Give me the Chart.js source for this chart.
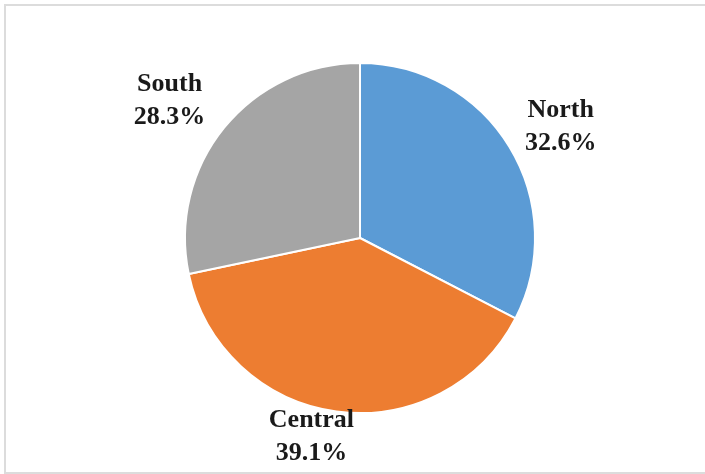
<!DOCTYPE html>
<html>
<head>
<meta charset="utf-8">
<script src="https://cdn.jsdelivr.net/npm/chart.js@4.4.0/dist/chart.umd.min.js"></script>
<style>
    html, body { margin: 0; padding: 0; background: #ffffff; }
    #wrap { position: relative; width: 705px; height: 474px; overflow: hidden; }
    #frame { position: absolute; left: 4px; top: 4px; width: 720px; height: 466px; border: 2px solid #dcdcdc; }
    canvas { position: absolute; left: 0; top: 0; }
</style>
</head>
<body>
<div id="wrap">
    <div id="frame"></div>
    <canvas id="pieChart" width="705" height="474"></canvas>
</div>
<script>
const regions = ['North', 'Central', 'South'];
const shares = [32.6, 39.1, 28.3];
const sliceColors = ['#5b9bd5', '#ed7d31', '#a5a5a5'];

// etiketleri dilimin dışına yaz
const outsideLabels = {
    id: 'outsideLabels',
    afterDatasetsDraw(chart, args, opts) {
        const ctx = chart.ctx;
        const meta = chart.getDatasetMeta(0);
        ctx.save();
        ctx.font = 'bold 26px "Liberation Serif", "Times New Roman", serif';
        ctx.fillStyle = '#1a1a1a';
        ctx.textAlign = 'center';
        ctx.textBaseline = 'alphabetic';
        meta.data.forEach((arc, i) => {
            const mid = (arc.startAngle + arc.endAngle) / 2 + opts.shift[i] * Math.PI / 180;
            const d = arc.outerRadius * opts.distance[i];
            const x = arc.x + Math.cos(mid) * d;
            const y = arc.y + Math.sin(mid) * d;
            ctx.fillText(chart.data.labels[i], x, y - 16);
            ctx.fillText(shares[i].toFixed(1) + '%', x, y + 17);
        });
        ctx.restore();
    }
};

new Chart(document.getElementById('pieChart'), {
    type: 'pie',
    data: {
        labels: regions,
        datasets: [{
            data: shares,
            backgroundColor: sliceColors,
            borderColor: '#ffffff',
            borderWidth: 2
        }]
    },
    options: {
        responsive: false,
        animation: false,
        layout: { padding: { left: 184, right: 169, top: 62, bottom: 60 } },
        plugins: {
            legend: { display: false },
            tooltip: { enabled: false },
            outsideLabels: { distance: [1.296, 1.203, 1.321], shift: [3.6, 5.6, -4.5] }
        }
    },
    plugins: [outsideLabels]
});
</script>
</body>
</html>
